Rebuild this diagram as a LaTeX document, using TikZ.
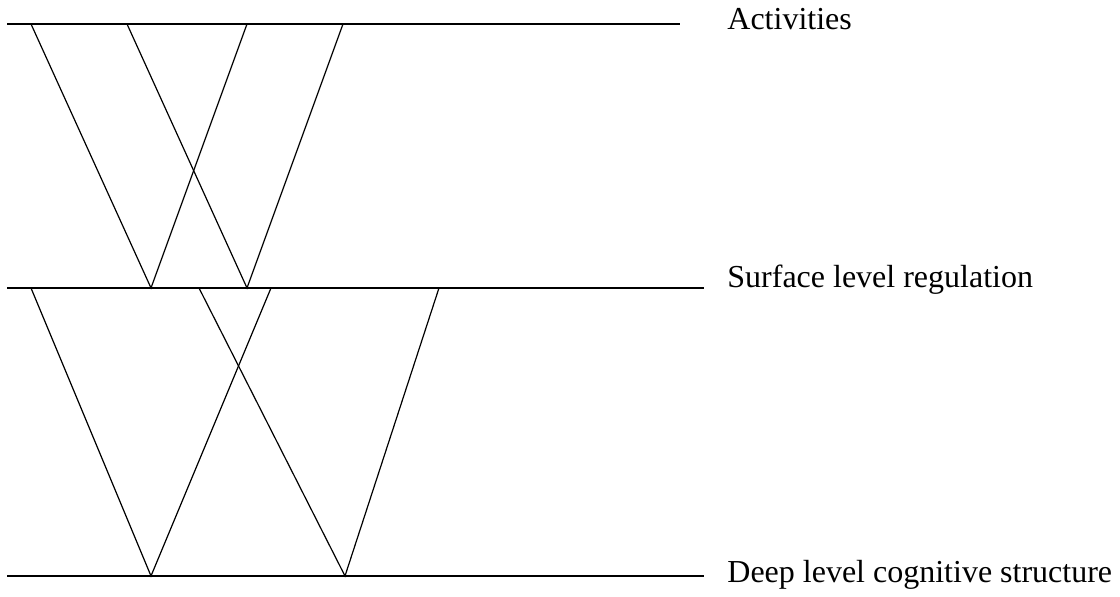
\documentclass[tikz,border=0pt]{standalone}
\usepackage{fontspec}
\setmainfont{Liberation Serif}
\usepackage{tikz}
\usetikzlibrary{positioning}

\begin{document}
\begin{tikzpicture}[x=0.5pt,y=-0.5pt,
    every node/.style={anchor=base west,inner sep=0pt,
      font=\fontsize{16}{19}\selectfont},
    lvl/.style={line width=0.65pt},
    link/.style={line width=0.6pt,line join=miter}]
  \useasboundingbox (0,0) rectangle (1120,597);
  % levels
  \coordinate (actL) at (7,24);   \coordinate (actR) at (680,24);
  \coordinate (surL) at (7,288);  \coordinate (surR) at (704,288);
  \coordinate (depL) at (7,576);  \coordinate (depR) at (704,576);
  \draw[lvl] (actL) -- (actR);
  \draw[lvl] (surL) -- (surR);
  \draw[lvl] (depL) -- (depR);
  \node (act) at (727,30) {Activities};
  \node (sur) at (727,288) {Surface level regulation};
  \node (dep) at (727,583) {Deep level cognitive structure};
  % activities -> surface
  \coordinate (a1) at (31,24);  \coordinate (a2) at (127,24);
  \coordinate (a3) at (247,24); \coordinate (a4) at (343,24);
  \coordinate (s1) at (151,288); \coordinate (s2) at (247,288);
  \draw[link] (a1) -- (s1) -- (a3);
  \draw[link] (a2) -- (s2) -- (a4);
  % surface -> deep
  \coordinate (b1) at (31,288);  \coordinate (b2) at (199,288);
  \coordinate (b3) at (271,288); \coordinate (b4) at (439,288);
  \coordinate (d1) at (151,576); \coordinate (d2) at (345,576);
  \draw[link] (b1) -- (d1) -- (b3);
  \draw[link] (b2) -- (d2) -- (b4);
\end{tikzpicture}
\end{document}
